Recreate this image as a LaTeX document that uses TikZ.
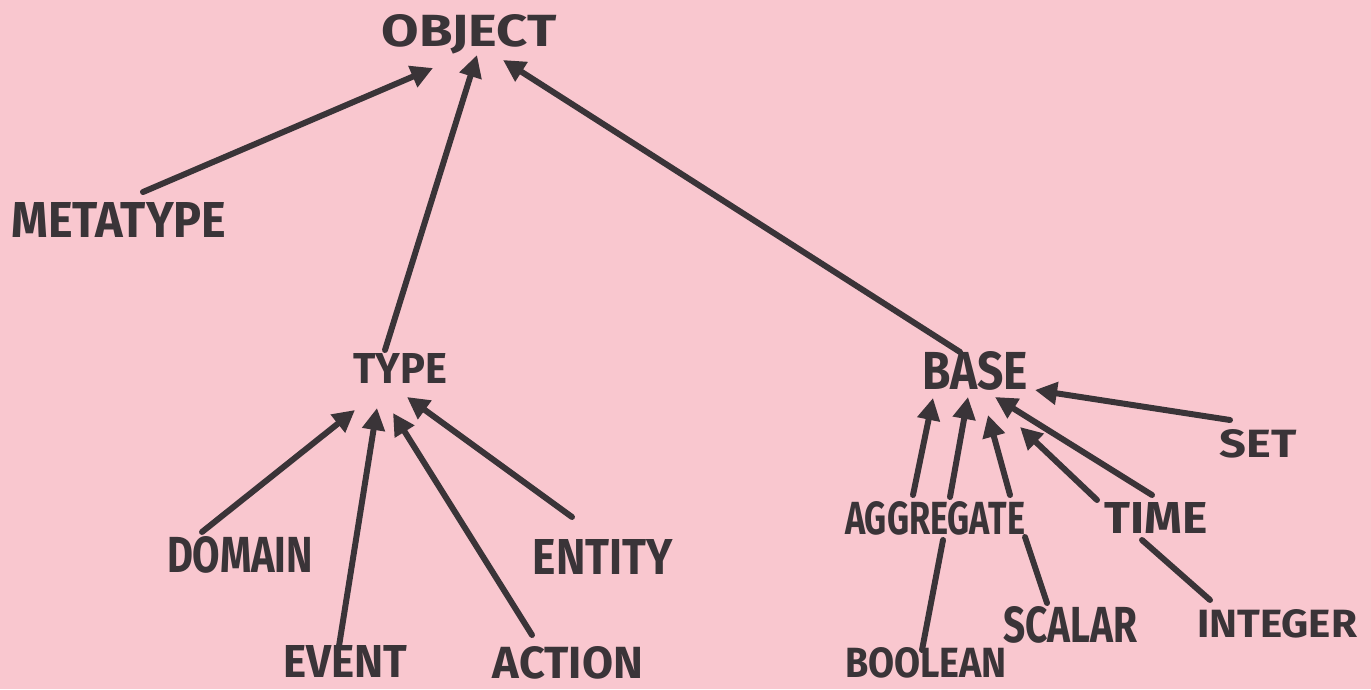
\documentclass[tikz,border=0pt]{standalone}
\usepackage{fontspec}
\setmainfont{Fira Sans}
\usetikzlibrary{arrows.meta}
\definecolor{paper}{RGB}{249,199,207}
\definecolor{ink}{RGB}{58,52,56}
\newlength\pxu
\setlength\pxu{0.02cm}
\newcommand\hand[3]{\resizebox{#1\pxu}{#2\pxu}{\bfseries #3}}
\tikzset{
  lbl/.style={inner sep=0pt, text=ink},
  conn/.style={draw=ink, line width=3.4pt, line cap=round},
  arr/.style={conn, -{Triangle[length=0.44cm,width=0.44cm]}}
}
\begin{document}
\begin{tikzpicture}[x=0.02cm,y=-0.02cm]
\fill[paper] (0,0) rectangle (1371,689);
\useasboundingbox (0,0) rectangle (1371,689);
% nodes
\node[lbl] (object)   at (469,34)   {\hand{175}{32}{OBJECT}};
\node[lbl] (metatype) at (119,220)  {\hand{215}{35}{METATYPE}};
\node[lbl] (type)     at (400,368)  {\hand{94}{30}{TYPE}};
\node[lbl] (base)     at (975,371)  {\hand{106}{38}{BASE}};
\node[lbl] (set)      at (1258,444) {\hand{77}{28}{SET}};
\node[lbl] (aggregate) at (935,518) {\hand{180}{33}{AGGREGATE}};
\node[lbl] (time)     at (1156,518) {\hand{103}{31}{TIME}};
\node[lbl] (domain)   at (240,555)  {\hand{146}{36}{DOMAIN}};
\node[lbl] (entity)   at (603,557)  {\hand{140}{35}{ENTITY}};
\node[lbl] (event)    at (345,661)  {\hand{124}{32}{EVENT}};
\node[lbl] (action)   at (568,663)  {\hand{150}{32}{ACTION}};
\node[lbl] (scalar)   at (1070,625) {\hand{134}{36}{SCALAR}};
\node[lbl] (integer)  at (1277,624) {\hand{160}{28}{INTEGER}};
\node[lbl] (boolean)  at (926,663)  {\hand{162}{30}{BOOLEAN}};
% arrows to OBJECT
\draw[arr] ([shift={(24,-28)}]metatype.center) -- ([shift={(-36,34)}]object.center);
\draw[arr] ([shift={(-15,-18)}]type.center) -- ([shift={(8,21)}]object.center);
\draw[arr] ([shift={(-15,-19)}]base.center) -- ([shift={(34,26)}]object.center);
% arrows to TYPE
\draw[arr] ([shift={(-38,-23)}]domain.center) -- ([shift={(-45,42)}]type.center);
\draw[arr] ([shift={(-6,-15)}]event.center) -- ([shift={(-23,40)}]type.center);
\draw[arr] ([shift={(-36,-28)}]action.center) -- ([shift={(-7,45)}]type.center);
\draw[arr] ([shift={(-31,-40)}]entity.center) -- ([shift={(7,29)}]type.center);
% arrows to BASE
\draw[arr] ([shift={(-22,-23)}]aggregate.center) -- ([shift={(-42,27)}]base.center);
\draw[arr] ([shift={(15,-21)}]aggregate.center) -- ([shift={(-7,26)}]base.center);
\draw[arr] ([shift={(75,-23)}]aggregate.center) -- ([shift={(13,44)}]base.center);
\draw[arr] ([shift={(-4,-23)}]time.center) -- ([shift={(20,26)}]base.center);
\draw[arr] ([shift={(-59,-18)}]time.center) -- ([shift={(45,56)}]base.center);
\draw[arr] ([shift={(-28,-24)}]set.center) -- ([shift={(60,19)}]base.center);
% plain lines
\draw[conn] ([shift={(8,22)}]aggregate.center) -- ([shift={(-4,-13)}]boolean.center);
\draw[conn] ([shift={(90,19)}]aggregate.center) -- ([shift={(-23,-22)}]scalar.center);
\draw[conn] ([shift={(-14,22)}]time.center) -- ([shift={(-67,-24)}]integer.center);
\end{tikzpicture}
\end{document}
